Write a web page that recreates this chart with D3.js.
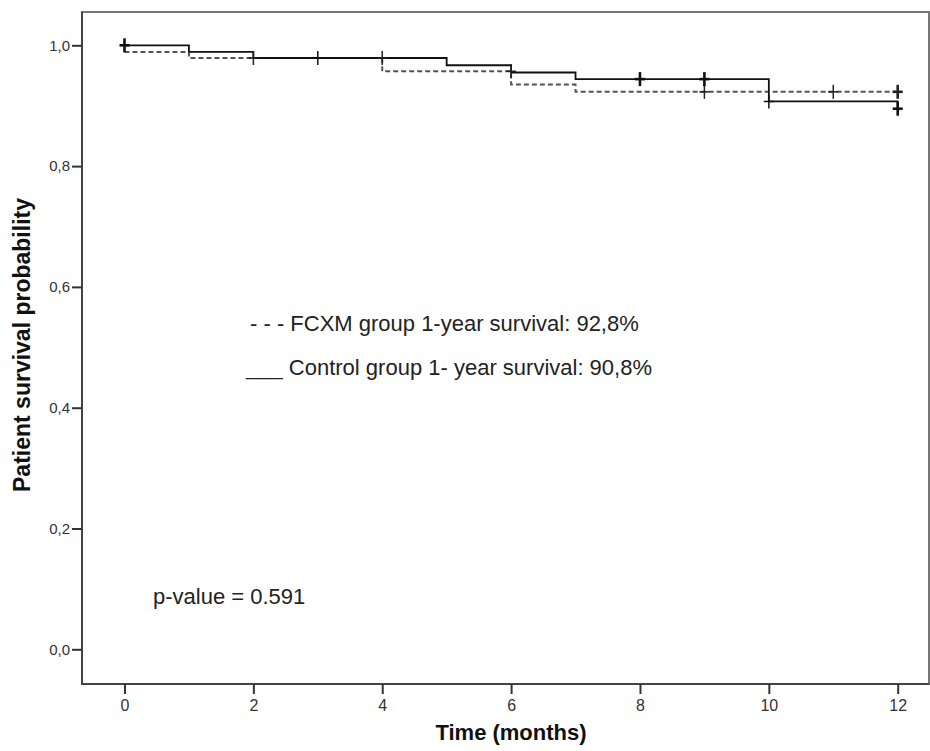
<!DOCTYPE html>
<html>
<head>
<meta charset="utf-8">
<script src="https://cdn.jsdelivr.net/npm/d3@7"></script>
<style>
  body { margin: 0; background: #fff; }
  svg { display: block; font-family: "Liberation Sans", Arial, sans-serif; }
</style>
</head>
<body>
<svg id="km" width="930" height="751"></svg>
<script>
// step curves (time in months, survival probability)
const fcxmTimes = [0, 1, 4, 6, 7, 12];
const fcxmSurv = [0.989, 0.979, 0.957, 0.935, 0.923, 0.923];
const controlTimes = [0, 1, 2, 5, 6, 7, 10, 12];
const controlSurv = [1.0, 0.989, 0.979, 0.967, 0.955, 0.944, 0.907, 0.895];

// censored observations
const fcxmCensorT = [2, 4, 6, 9, 11, 12];
const fcxmCensorS = [0.979, 0.979, 0.957, 0.923, 0.923, 0.923];
const fcxmCensorN = [1, 1, 1, 1, 1, 2];
const controlCensorT = [0, 3, 8, 9, 10, 12];
const controlCensorS = [1.0, 0.979, 0.944, 0.944, 0.907, 0.895];
const controlCensorN = [2, 1, 2, 2, 1, 2];

const xTicks = [0, 2, 4, 6, 8, 10, 12];
const yTicks = [0, 0.2, 0.4, 0.6, 0.8, 1.0];

const svg = d3.select("#km");
const frame = { left: 82, top: 12, right: 929, bottom: 684 };

const x = d3.scaleLinear().domain([0, 12]).range([124.5, 897.7]);
const y = d3.scaleLinear().domain([0, 1]).range([649.3, 45.3]);

// plot frame: light top/right, dark axes
svg.append("rect")
  .attr("x", frame.left)
  .attr("y", frame.top)
  .attr("width", frame.right - frame.left)
  .attr("height", frame.bottom - frame.top)
  .style("fill", "none")
  .style("stroke", "#777")
  .style("stroke-width", 2);
svg.append("path")
  .attr("d", `M${frame.left},${frame.top}V${frame.bottom}H${frame.right}`)
  .style("fill", "none")
  .style("stroke", "#444")
  .style("stroke-width", 2);

const fmt = (d) => d3.format(".1f")(d).replace(".", ",");

// y axis
const yAxis = svg.append("g")
  .attr("transform", `translate(${frame.left},0)`)
  .call(d3.axisLeft(y).tickValues(yTicks).tickSize(10).tickPadding(2).tickFormat(fmt));
yAxis.select(".domain").remove();
yAxis.selectAll(".tick line").style("stroke", "#333").style("stroke-width", 2);
yAxis.selectAll(".tick text")
  .style("font-size", "15px")
  .style("font-family", "Liberation Sans, Arial, sans-serif")
  .style("fill", "#333");

// x axis
const xAxis = svg.append("g")
  .attr("transform", `translate(0,${frame.bottom})`)
  .call(d3.axisBottom(x).tickValues(xTicks).tickSize(10).tickPadding(6));
xAxis.select(".domain").remove();
xAxis.selectAll(".tick line").style("stroke", "#333").style("stroke-width", 2);
xAxis.selectAll(".tick text")
  .style("font-size", "16px")
  .style("font-family", "Liberation Sans, Arial, sans-serif")
  .style("fill", "#333");

// axis titles
svg.append("text")
  .attr("transform", "translate(30,345) rotate(-90)")
  .attr("text-anchor", "middle")
  .style("font-size", "23px")
  .style("font-weight", "bold")
  .style("fill", "#111")
  .text("Patient survival probability");

svg.append("text")
  .attr("x", 511)
  .attr("y", 740)
  .attr("text-anchor", "middle")
  .style("font-size", "22px")
  .style("font-weight", "bold")
  .style("fill", "#111")
  .text("Time (months)");

const line = d3.line()
  .x((d) => x(d[0]))
  .y((d) => y(d[1]))
  .curve(d3.curveStepAfter);

const plot = svg.append("g");

plot.append("path")
  .attr("d", line(d3.zip(fcxmTimes, fcxmSurv)))
  .style("fill", "none")
  .style("stroke", "#555")
  .style("stroke-width", 2)
  .style("stroke-dasharray", "5,3");

plot.append("path")
  .attr("d", line(d3.zip(controlTimes, controlSurv)))
  .style("fill", "none")
  .style("stroke", "#111")
  .style("stroke-width", 1.8);

const drawCensor = (ts, ss, ns, color) => {
  const g = plot.append("g");
  d3.zip(ts, ss, ns).forEach(([t, s, n]) => {
    const cx = x(t), cy = y(s);
    const w = n > 1 ? 2.6 : 1.5;
    g.append("line")
      .attr("x1", cx - 5).attr("x2", cx + 5)
      .attr("y1", cy).attr("y2", cy)
      .style("stroke", color).style("stroke-width", w);
    g.append("line")
      .attr("x1", cx).attr("x2", cx)
      .attr("y1", cy - 7).attr("y2", cy + 7)
      .style("stroke", color).style("stroke-width", w);
  });
};
drawCensor(fcxmCensorT, fcxmCensorS, fcxmCensorN, "#222");
drawCensor(controlCensorT, controlCensorS, controlCensorN, "#111");

// annotations
const notes = svg.append("g").style("font-size", "22px").style("fill", "#222");
notes.append("text").attr("x", 250).attr("y", 331)
  .text("- - - FCXM group 1-year survival: 92,8%");
notes.append("text").attr("x", 246).attr("y", 375)
  .text("___ Control group 1- year survival: 90,8%");
notes.append("text").attr("x", 153).attr("y", 604)
  .text("p-value = 0.591");
</script>
</body>
</html>
